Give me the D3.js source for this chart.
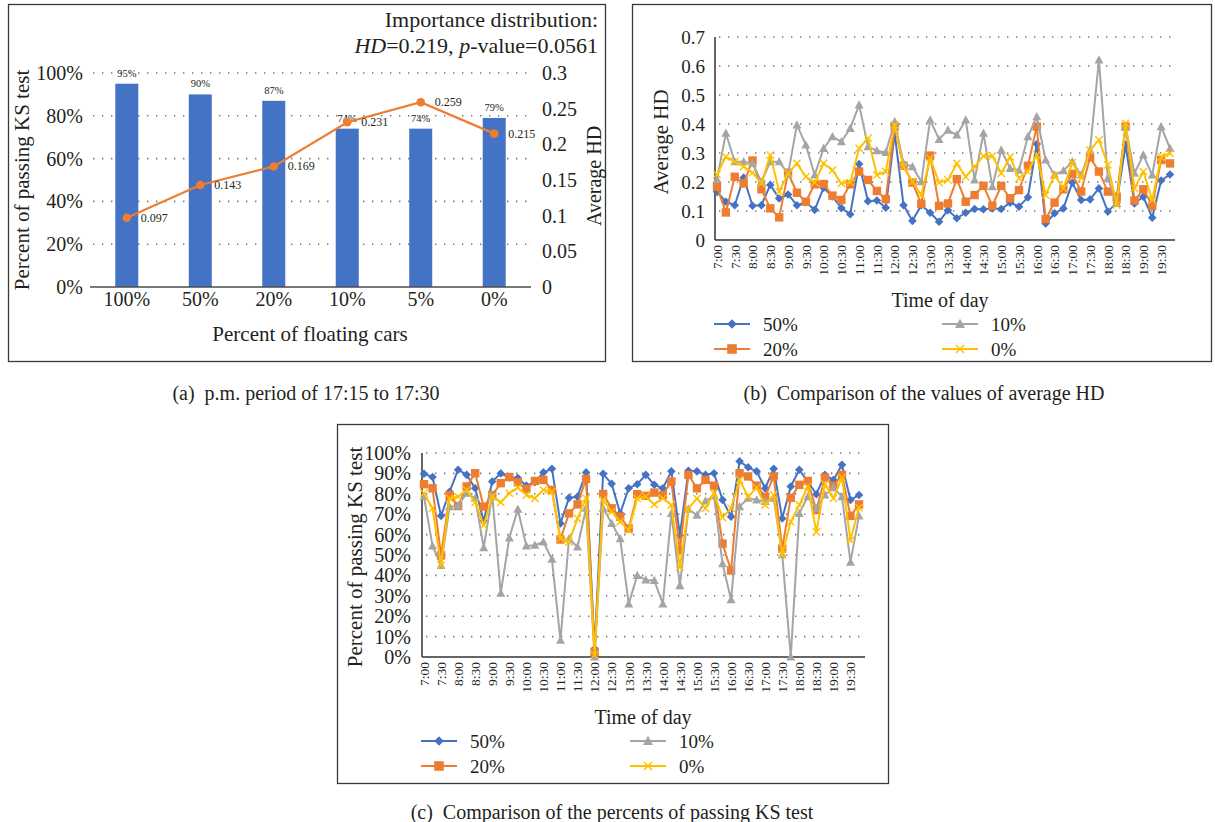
<!DOCTYPE html>
<html>
<head>
<meta charset="utf-8">
<style>
body { margin: 0; background: #fff; }
svg text { font-family: "Liberation Serif", "DejaVu Serif", serif; fill: #231f20; white-space: pre; }
</style>
</head>
<body>
<div id="chart"></div>
<script src="https://d3js.org/d3.v7.min.js"></script>
<script>
// (a) bars + line
var floatCats = ["100%", "50%", "20%", "10%", "5%", "0%"];
var passRate = [95, 90, 87, 74, 74, 79];
var avgHD = [0.097, 0.143, 0.169, 0.231, 0.259, 0.215];

// (b), (c) time of day, 15 min steps
var times = ["7:00","7:15","7:30","7:45","8:00","8:15","8:30","8:45","9:00","9:15","9:30","9:45",
  "10:00","10:15","10:30","10:45","11:00","11:15","11:30","11:45","12:00","12:15","12:30","12:45",
  "13:00","13:15","13:30","13:45","14:00","14:15","14:30","14:45","15:00","15:15","15:30","15:45",
  "16:00","16:15","16:30","16:45","17:00","17:15","17:30","17:45","18:00","18:15","18:30","18:45",
  "19:00","19:15","19:30","19:45"];

var seriesNames = ["50%", "20%", "10%", "0%"];
var seriesColors = ["#4472C4", "#ED7D31", "#A5A5A5", "#FFC000"];
var seriesMarks = ["diamond", "square", "triangle", "cross"];

var hd50 = [0.166,0.132,0.12,0.215,0.118,0.12,0.19,0.143,0.157,0.12,0.13,0.104,
  0.18,0.15,0.11,0.089,0.262,0.134,0.136,0.111,0.368,0.12,0.066,0.12,
  0.094,0.063,0.103,0.075,0.094,0.107,0.106,0.109,0.107,0.129,0.115,0.147,
  0.331,0.057,0.092,0.109,0.198,0.138,0.14,0.178,0.098,0.129,0.328,0.126,
  0.149,0.077,0.205,0.226];
var hd20 = [0.184,0.095,0.218,0.195,0.274,0.175,0.109,0.078,0.232,0.163,0.132,0.192,
  0.193,0.153,0.138,0.192,0.236,0.207,0.169,0.141,0.391,0.256,0.198,0.125,
  0.291,0.118,0.126,0.21,0.132,0.155,0.187,0.118,0.187,0.144,0.172,0.256,
  0.391,0.072,0.129,0.175,0.228,0.167,0.285,0.236,0.167,0.149,0.391,0.136,
  0.175,0.118,0.276,0.264];
var hd10 = [0.209,0.368,0.27,0.27,0.264,0.2,0.27,0.27,0.228,0.397,0.328,0.224,
  0.316,0.356,0.339,0.385,0.466,0.322,0.308,0.302,0.408,0.264,0.253,0.201,
  0.414,0.347,0.379,0.362,0.414,0.207,0.368,0.184,0.31,0.247,0.241,0.356,
  0.425,0.276,0.224,0.239,0.27,0.224,0.31,0.621,0.213,0.126,0.391,0.23,
  0.293,0.224,0.391,0.316];
var hd0 = [0.226,0.287,0.27,0.253,0.232,0.195,0.293,0.167,0.23,0.264,0.218,0.198,
  0.264,0.241,0.195,0.198,0.316,0.351,0.224,0.236,0.397,0.253,0.201,0.155,
  0.282,0.198,0.207,0.264,0.218,0.253,0.29,0.29,0.23,0.287,0.213,0.236,
  0.293,0.155,0.224,0.178,0.267,0.213,0.31,0.345,0.259,0.121,0.402,0.178,
  0.236,0.138,0.287,0.299];

var ks50 = [89.8,88.2,69.2,81,91.8,89.3,82.7,66.6,86,90,88,87.7,
  84,85.7,90.5,92.3,65.5,78,78.6,90.5,4,89.8,84.9,70.4,
  82.7,84.7,89.3,84.4,82.7,91,59.7,91.3,91,89.3,90.1,77,
  68.8,95.9,93,91,82.7,92.3,67.9,83.6,91.8,86,79.8,89.3,
  86.8,94.2,77,79.4];
var ks20 = [84.7,82.7,49.8,79.4,74,83.6,90.1,73.7,79.4,85.2,88.2,85.7,
  82.4,86.3,86.8,81.9,57.6,70.4,74.8,87.3,2.5,79.9,72.9,68.8,
  63,79.8,79,80.6,79.4,86,52.3,89.3,82.7,86.8,84,55.6,
  42.4,90.1,88.5,84,78.6,88.5,53.1,78,84.4,86.3,72,88,
  84,89.3,69.2,74.8];
var ks10 = [78.6,54.4,44.9,73.7,74.2,80.3,77.8,53.6,79.4,31.3,58.4,72.4,
  54.4,54.8,56.4,47.9,8.2,58,53.9,72.9,0,72.9,65.5,58,
  26,40,37.8,37.5,26,70.4,35,72.5,69.5,76.5,79,45.7,
  28.1,73.7,77.8,77,76.2,77.8,50.2,0,70.4,78.6,72.9,79.4,
  83,78.6,46.5,69.2];
var ks0 = [80.3,72.9,44.9,77.8,78.6,81.9,75.8,64.6,78.6,75.8,80.3,83,
  79.4,77.8,81.9,81.1,58,56.4,67.9,77.8,1,77,71.2,66.3,
  62.2,77.8,78.6,74.8,77.8,74.5,44,72.9,77.8,72.9,80.3,68.3,
  72.9,86.8,78.6,83,74.5,79.4,50.2,66.3,74.5,83.6,61.3,84.7,
  77.8,88,57.2,73.2];

var svg = d3.select("#chart").append("svg")
    .attr("width", 1215)
    .attr("height", 822);

svg.append("rect").attr("width", 1215).attr("height", 822).attr("fill", "#fff");

function frame(x, y, w, h) {
  svg.append("rect")
      .attr("x", x).attr("y", y).attr("width", w).attr("height", h)
      .attr("fill", "none").attr("stroke", "#3a3a3a").attr("stroke-width", 1.3);
}

function dotted(g, x1, x2, y) {
  g.append("line")
      .attr("x1", x1).attr("x2", x2).attr("y1", y).attr("y2", y)
      .attr("stroke", "#777").attr("stroke-width", 1.6)
      .attr("stroke-dasharray", "1.4,7.6");
}

function marker(g, type, color, x, y, s) {
  if (type == "diamond") {
    g.append("path").attr("d", "M" + x + "," + (y - s) + "L" + (x + s) + "," + y + "L" + x + "," + (y + s) + "L" + (x - s) + "," + y + "Z")
        .attr("fill", color);
  } else if (type == "square") {
    g.append("rect").attr("x", x - s).attr("y", y - s).attr("width", 2 * s).attr("height", 2 * s)
        .attr("fill", color);
  } else if (type == "triangle") {
    var h = s * 1.1;
    g.append("path").attr("d", "M" + x + "," + (y - h) + "L" + (x + s * 1.05) + "," + (y + h * 0.75) + "L" + (x - s * 1.05) + "," + (y + h * 0.75) + "Z")
        .attr("fill", color);
  } else {
    var c = s * 0.85;
    g.append("path").attr("d", "M" + (x - c) + "," + (y - c) + "L" + (x + c) + "," + (y + c) + "M" + (x - c) + "," + (y + c) + "L" + (x + c) + "," + (y - c))
        .attr("stroke", color).attr("stroke-width", 1.4).attr("fill", "none");
  }
}

// ---------- panel (a) ----------
frame(8.5, 4.5, 597, 357);
var ga = svg.append("g");
var xa = d3.scaleBand().domain(floatCats).range([90, 531]).paddingInner(0.687).paddingOuter(0.344);
var yaL = d3.scaleLinear().domain([0, 100]).range([287, 73]);
var yaR = d3.scaleLinear().domain([0, 0.3]).range([287, 73]);

[20, 40, 60, 80, 100].forEach(function(t) { dotted(ga, 93, 531, yaL(t)); });

ga.selectAll(".bar")
    .data(passRate)
  .enter().append("rect")
    .attr("x", function(d, i) { return xa(floatCats[i]); })
    .attr("width", xa.bandwidth())
    .attr("y", function(d) { return yaL(d); })
    .attr("height", function(d) { return yaL(0) - yaL(d); })
    .attr("fill", "#4472C4");

ga.append("line").attr("x1", 90).attr("x2", 531).attr("y1", 287).attr("y2", 287)
    .attr("stroke", "#4d4d4d").attr("stroke-width", 1.5);

[0, 20, 40, 60, 80, 100].forEach(function(t) {
  ga.append("text").attr("x", 83).attr("y", yaL(t) + 7).attr("text-anchor", "end")
      .style("font-size", "20px").text(t + "%");
});
yaR.ticks(6).forEach(function(t) {
  ga.append("text").attr("x", 542).attr("y", yaR(t) + 7)
      .style("font-size", "20px").text(t);
});

floatCats.forEach(function(c) {
  ga.append("text").attr("x", xa(c) + xa.bandwidth() / 2).attr("y", 306).attr("text-anchor", "middle")
      .style("font-size", "20px").text(c);
});

passRate.forEach(function(d, i) {
  ga.append("text").attr("x", xa(floatCats[i]) + xa.bandwidth() / 2).attr("y", yaL(d) - 7)
      .attr("text-anchor", "middle").style("font-size", "10.5px").text(d + "%");
});

var lineA = d3.line()
    .x(function(d, i) { return xa(floatCats[i]) + xa.bandwidth() / 2; })
    .y(function(d) { return yaR(d); });
ga.append("path").datum(avgHD).attr("d", lineA)
    .attr("fill", "none").attr("stroke", "#ED7D31").attr("stroke-width", 2.2);
avgHD.forEach(function(d, i) {
  var cx = xa(floatCats[i]) + xa.bandwidth() / 2;
  ga.append("circle").attr("cx", cx).attr("cy", yaR(d)).attr("r", 4.3).attr("fill", "#ED7D31");
  ga.append("text").attr("x", cx + 14).attr("y", yaR(d) + 4).style("font-size", "12px").text(d);
});

ga.append("text").attr("x", 310).attr("y", 341).attr("text-anchor", "middle")
    .style("font-size", "21px").text("Percent of floating cars");
ga.append("text").attr("text-anchor", "middle")
    .attr("transform", "translate(29,180)rotate(-90)")
    .style("font-size", "21px").text("Percent of passing KS test");
ga.append("text").attr("text-anchor", "middle")
    .attr("transform", "translate(601,176)rotate(-90)")
    .style("font-size", "20px").text("Average HD");

ga.append("text").attr("x", 598).attr("y", 27).attr("text-anchor", "end")
    .style("font-size", "22px").text("Importance distribution:");
var t2 = ga.append("text").attr("x", 598).attr("y", 53).attr("text-anchor", "end").style("font-size", "22px");
t2.append("tspan").style("font-style", "italic").text("HD");
t2.append("tspan").text("=0.219, ");
t2.append("tspan").style("font-style", "italic").text("p");
t2.append("tspan").text("-value=0.0561");

// ---------- line panels (b), (c) ----------
function linePanel(o) {
  var g = svg.append("g");
  var x = d3.scalePoint().domain(times).range([o.x0, o.x1]);
  var y = d3.scaleLinear().domain(o.domain).range([o.yb, o.yt]);

  o.ticks.forEach(function(t) {
    if (t > 0) dotted(g, o.ax + 4, o.xr, y(t));
    g.append("text").attr("x", o.ax - o.tickGap).attr("y", y(t) + 7).attr("text-anchor", "end")
        .style("font-size", o.tickSize).text(o.fmt(t));
  });
  g.append("line").attr("x1", o.ax).attr("x2", o.ax).attr("y1", o.yt).attr("y2", o.yb)
      .attr("stroke", "#333").attr("stroke-width", 1.5);
  g.append("line").attr("x1", o.ax).attr("x2", o.xr).attr("y1", o.yb).attr("y2", o.yb)
      .attr("stroke", "#333").attr("stroke-width", 1.5);

  times.forEach(function(t, i) {
    if (i % 2) return;
    g.append("text").attr("text-anchor", "end")
        .attr("transform", "translate(" + (x(t) + 4.8) + "," + (o.yb + 5) + ")rotate(-90)")
        .style("font-size", "13.5px").text(t);
  });

  var line = d3.line()
      .x(function(d, i) { return x(times[i]); })
      .y(function(d) { return y(d); });

  o.series.forEach(function(s, k) {
    g.append("path").datum(s).attr("d", line)
        .attr("fill", "none").attr("stroke", seriesColors[k]).attr("stroke-width", 2)
        .attr("stroke-linejoin", "round");
    s.forEach(function(d, i) {
      marker(g, seriesMarks[k], seriesColors[k], x(times[i]), y(d), k == 1 ? 4.2 : 4.3);
    });
  });

  g.append("text").attr("x", o.titleX).attr("y", o.yb + 67).attr("text-anchor", "middle")
      .style("font-size", "20px").text("Time of day");
  g.append("text").attr("text-anchor", "middle")
      .attr("transform", "translate(" + o.ytX + "," + o.ytY + ")rotate(-90)")
      .style("font-size", "21px").text(o.ytitle);

  // legend, two columns
  seriesNames.forEach(function(n, k) {
    var lx = k < 2 ? o.ax - 1 : o.leg2;
    var ly = o.legY + (k % 2) * 25;
    g.append("line").attr("x1", lx).attr("x2", lx + 36).attr("y1", ly).attr("y2", ly)
        .attr("stroke", seriesColors[k]).attr("stroke-width", 2);
    marker(g, seriesMarks[k], seriesColors[k], lx + 18, ly, 4.8);
    g.append("text").attr("x", lx + 49).attr("y", ly + 7).style("font-size", "19px").text(n);
  });
}

frame(632.5, 4.5, 579, 357);
linePanel({
  series: [hd50, hd20, hd10, hd0],
  domain: [0, 0.7], ticks: [0, 0.1, 0.2, 0.3, 0.4, 0.5, 0.6, 0.7],
  fmt: function(t) { return t == 0 ? "0" : t.toFixed(1); },
  tickSize: "19px", tickGap: 10,
  x0: 717, x1: 1170, xr: 1175, ax: 715, yb: 240, yt: 37,
  titleX: 940, ytX: 668, ytY: 142, ytitle: "Average HD",
  legY: 324, leg2: 942
});

frame(337.5, 424.5, 551, 359);
linePanel({
  series: [ks50, ks20, ks10, ks0],
  domain: [0, 100], ticks: [0, 10, 20, 30, 40, 50, 60, 70, 80, 90, 100],
  fmt: function(t) { return t + "%"; },
  tickSize: "20px", tickGap: 11,
  x0: 424, x1: 859, xr: 865, ax: 422, yb: 657, yt: 453,
  titleX: 643, ytX: 362, ytY: 557, ytitle: "Percent of passing KS test",
  legY: 741, leg2: 630
});

// captions
svg.append("text").attr("x", 306).attr("y", 400).attr("text-anchor", "middle")
    .style("font-size", "20px").text("(a)  p.m. period of 17:15 to 17:30");
svg.append("text").attr("x", 924).attr("y", 400).attr("text-anchor", "middle")
    .style("font-size", "20px").text("(b)  Comparison of the values of average HD");
svg.append("text").attr("x", 612).attr("y", 819).attr("text-anchor", "middle")
    .style("font-size", "20px").text("(c)  Comparison of the percents of passing KS test");
</script>
</body>
</html>
